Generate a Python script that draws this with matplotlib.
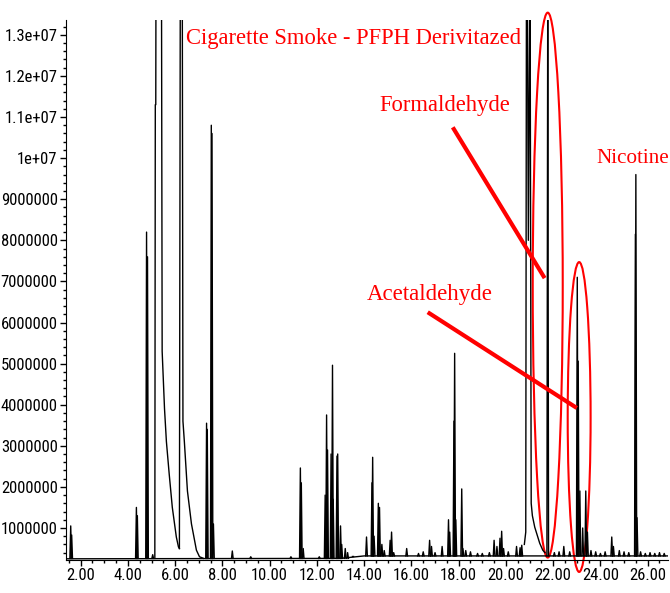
"""Cigarette smoke chromatogram - PFPH derivatized"""

import numpy as np
import matplotlib
matplotlib.use('Agg')
from matplotlib import pyplot as plt
from matplotlib import font_manager
from matplotlib.patches import Ellipse
from matplotlib.ticker import MultipleLocator, FixedLocator, FixedFormatter

# peak table: retention time (min), height (counts)
peak_t = [1.58, 1.62, 4.36, 4.40, 4.79, 4.83, 5.05,
          7.33, 7.36, 7.53, 7.56, 7.62, 8.42, 9.20, 10.90,
          11.30, 11.34, 11.42, 12.10, 12.35, 12.41, 12.45, 12.60, 12.66, 12.69,
          12.85, 12.88, 13.00, 13.05, 13.20, 13.30, 13.50,
          14.10, 14.33, 14.36, 14.42, 14.60, 14.65, 14.75, 14.85,
          15.10, 15.16, 15.25, 15.80, 16.30, 16.50, 16.77, 16.85, 17.00,
          17.30, 17.57, 17.62, 17.80, 17.83, 17.88,
          18.13, 18.18, 18.30, 18.50, 18.80, 19.00, 19.30,
          19.50, 19.62, 19.75, 19.82, 19.90, 20.10, 20.45, 20.60, 20.67,
          21.77, 22.05, 22.25, 22.45, 22.70,
          23.02, 23.06, 23.13, 23.25, 23.38, 23.45, 23.60, 23.80, 24.00, 24.20,
          24.48, 24.55, 24.80, 25.00, 25.20,
          25.48, 25.50, 25.55, 25.70, 25.90, 26.10, 26.30, 26.50, 26.70]
peak_h = [1.05e6, 0.83e6, 1.5e6, 1.3e6, 8.2e6, 7.6e6, 0.35e6,
          3.55e6, 3.4e6, 1.08e7, 1.06e7, 1.1e6, 0.44e6, 0.3e6, 0.3e6,
          2.46e6, 2.1e6, 0.5e6, 0.3e6, 1.8e6, 3.75e6, 2.9e6, 2.8e6, 4.96e6, 1.7e6,
          2.75e6, 2.8e6, 1.05e6, 0.6e6, 0.5e6, 0.4e6, 0.32e6,
          0.78e6, 2.1e6, 2.72e6, 0.8e6, 1.6e6, 1.5e6, 0.6e6, 0.45e6,
          0.7e6, 0.9e6, 0.4e6, 0.5e6, 0.38e6, 0.42e6, 0.7e6, 0.55e6, 0.4e6,
          0.55e6, 1.2e6, 0.9e6, 3.6e6, 5.25e6, 1.2e6,
          1.95e6, 0.5e6, 0.45e6, 0.42e6, 0.38e6, 0.38e6, 0.4e6,
          0.7e6, 0.55e6, 0.75e6, 0.92e6, 0.5e6, 0.42e6, 0.55e6, 0.52e6, 0.58e6,
          1.4e7, 0.4e6, 0.42e6, 0.55e6, 0.42e6,
          7.1e6, 5.06e6, 1.9e6, 1.0e6, 1.9e6, 0.9e6, 0.45e6, 0.42e6, 0.38e6, 0.42e6,
          0.78e6, 0.55e6, 0.45e6, 0.42e6, 0.4e6,
          8.15e6, 9.6e6, 1.25e6, 0.42e6, 0.38e6, 0.4e6, 0.38e6, 0.4e6, 0.38e6]

# off-scale solvent / reagent peaks with their tails, traced point by point
big1_t = [5.14, 5.16, 5.18, 5.19, 5.42, 5.45, 5.55, 5.63, 5.75, 5.88, 6.05, 6.14, 6.18]
big1_i = [0.26e6, 1.13e7, 1.13e7, 1.5e7, 1.5e7, 5.3e6, 3.9e6, 3.1e6, 2.3e6, 1.5e6, 0.78e6, 0.54e6, 0.5e6]
big2_t = [6.18, 6.20, 6.22, 6.30, 6.33, 6.39, 6.52, 6.69, 6.90, 7.03, 7.20]
big2_i = [0.5e6, 7.8e6, 1.5e7, 1.5e7, 3.6e6, 3.1e6, 1.9e6, 1.1e6, 0.46e6, 0.3e6, 0.26e6]
big3_t = [20.78, 20.84, 20.87, 20.90, 20.95, 21.02, 21.07, 21.12, 21.22, 21.43, 21.56, 21.65]
big3_i = [0.6e6, 0.9e6, 1.5e7, 1.5e7, 8.0e6, 1.5e7, 1.6e6, 1.3e6, 1.02e6, 0.63e6, 0.46e6, 0.4e6]

base_t = [1.38, 13.0, 14.0, 26.86]
base_i = [0.25e6, 0.26e6, 0.32e6, 0.32e6]

xticks = [2, 4, 6, 8, 10, 12, 14, 16, 18, 20, 22, 24, 26]
xtick_labels = ['2.00', '4.00', '6.00', '8.00', '10.00', '12.00', '14.00',
                '16.00', '18.00', '20.00', '22.00', '24.00', '26.00']
yticks = [1e6, 2e6, 3e6, 4e6, 5e6, 6e6, 7e6, 8e6, 9e6, 1e7, 1.1e7, 1.2e7, 1.3e7]
ytick_labels = ['1000000', '2000000', '3000000', '4000000', '5000000', '6000000',
                '7000000', '8000000', '9000000', '1e+07', '1.1e+07', '1.2e+07', '1.3e+07']

# pick a condensed face if one is installed
names = set(f.name for f in font_manager.fontManager.ttflist)
narrow = 'Liberation Sans'
for cand in ['Liberation Sans Narrow', 'Roboto Condensed', 'Open Sans Condensed',
             'DejaVu Sans Condensed']:
    if cand in names:
        narrow = cand
        break
serif = ['Liberation Serif', 'DejaVu Serif']

fig = plt.figure(figsize=(6.7, 5.93), dpi=100)
ax = fig.add_axes([0.0985, 0.0556, 0.8985, 0.9106])

# trace
ax.plot(base_t, base_i, color='black', lw=1.0)
half_w = 0.035
for t, h in zip(peak_t, peak_h):
    foot = 0.26e6 if t < 13.5 else 0.32e6
    ax.plot([t - half_w, t, t + half_w], [foot, h, foot], color='black', lw=1.0)
ax.plot(big1_t, big1_i, color='black', lw=1.0)
ax.plot(big2_t, big2_i, color='black', lw=1.0)
ax.plot(big3_t, big3_i, color='black', lw=1.0)

ax.set_xlim(1.38, 26.86)
ax.set_ylim(0.22e6, 1.336e7)

ax.spines['top'].set_visible(False)
ax.spines['right'].set_visible(False)
ax.xaxis.set_major_locator(FixedLocator(xticks))
ax.xaxis.set_major_formatter(FixedFormatter(xtick_labels))
ax.xaxis.set_minor_locator(MultipleLocator(0.5))
ax.yaxis.set_major_locator(FixedLocator(yticks))
ax.yaxis.set_major_formatter(FixedFormatter(ytick_labels))
ax.yaxis.set_minor_locator(MultipleLocator(2e5))
lsize = 12 if narrow != 'Liberation Sans' else 9.5
ax.tick_params(axis='both', which='major', direction='out', length=4, width=1, pad=2,
               labelsize=lsize)
ax.tick_params(axis='both', which='minor', direction='out', length=2, width=1)
for lab in ax.get_xticklabels() + ax.get_yticklabels():
    lab.set_family(narrow)

# red annotations
red = '#ff0000'
ax.text(6.47, 1.292e7, 'Cigarette Smoke - PFPH Derivitazed', color=red,
        family=serif, fontsize=16.3, va='center', ha='left', clip_on=False)
ax.text(14.65, 1.129e7, 'Formaldehyde', color=red, family=serif, fontsize=16.3,
        va='center', ha='left')
ax.text(23.85, 1.0e7, 'Nicotine', color=red, family=serif, fontsize=15.2,
        va='center', ha='left')
ax.text(14.1, 6.67e6, 'Acetaldehyde', color=red, family=serif, fontsize=16.5,
        va='center', ha='left')
ax.plot([17.75, 21.64], [1.075e7, 7.08e6], color=red, lw=3, solid_capstyle='butt')
ax.plot([16.69, 23.0], [6.25e6, 3.92e6], color=red, lw=3, solid_capstyle='butt')
ax.add_patch(Ellipse((21.77, 6.91e6), 1.27, 1.326e7, fill=False, edgecolor=red,
                     lw=1.5, clip_on=False))
ax.add_patch(Ellipse((23.1, 3.7e6), 0.97, 7.54e6, fill=False, edgecolor=red,
                     lw=1.5, clip_on=False))

fig.savefig('out.png', dpi=100)
